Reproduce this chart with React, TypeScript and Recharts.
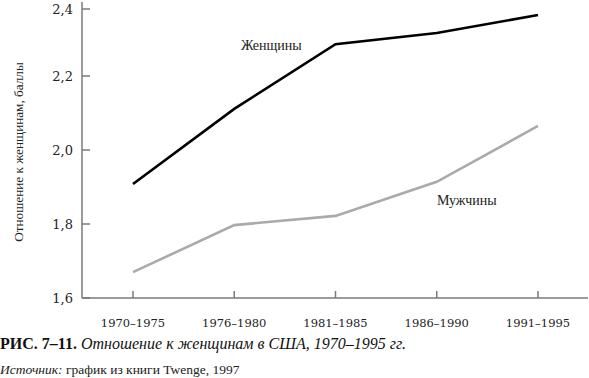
import { Line, LineChart, ReferenceDot, XAxis, YAxis } from "recharts";

const periods = ["1970–1975", "1976–1980", "1981–1985", "1986–1990", "1991–1995"];
const women = [1.908, 2.111, 2.286, 2.316, 2.365];
const men = [1.67, 1.797, 1.822, 1.914, 2.065];
const yTicks = [1.6, 1.8, 2.0, 2.2, 2.4];

const data = periods.map((period, i) => ({ period, women: women[i], men: men[i] }));

const SERIF = "'Liberation Serif', 'DejaVu Serif', serif";
const WIDE = "'DejaVu Serif', serif";
const AXIS = "#7a7a7a";

// ticks point inward, so draw them ourselves (props x/y sit 8px off the axis)
function XTick({ x, y, payload }: any) {
  const axisY = y - 8;
  return (
    <g>
      <line x1={x} x2={x} y1={axisY} y2={axisY - 7} stroke={AXIS} strokeWidth={1.5} />
      <text x={x} y={axisY + 29} textAnchor="middle" fontSize={11.5} fill="#222" fontFamily={WIDE}>
        {payload.value}
      </text>
    </g>
  );
}

function YTick({ x, y, payload }: any) {
  const axisX = x + 8;
  const label = payload.value.toFixed(1).replace(".", ",");
  return (
    <g>
      <line x1={axisX} x2={axisX + 8} y1={y} y2={y} stroke={AXIS} strokeWidth={1.5} />
      <text x={axisX - 9} y={y + 5} textAnchor="end" fontSize={13} fill="#222" fontFamily={WIDE}>
        {label}
      </text>
    </g>
  );
}

function seriesLabel(text: string, dx: number) {
  return ({ viewBox }: any) => (
    <text
      x={viewBox.x + viewBox.width / 2 + dx}
      y={viewBox.y + viewBox.height / 2 + 5}
      textAnchor="middle"
      fontSize={14}
      fill="#222"
      fontFamily={SERIF}
    >
      {text}
    </text>
  );
}

function YLabel({ viewBox }: any) {
  const cy = viewBox.y + viewBox.height / 2 + 2;
  return (
    <text
      x={18}
      y={cy}
      transform={`rotate(-90 18 ${cy})`}
      textAnchor="middle"
      dominantBaseline="central"
      fontSize={13.2}
      fill="#222"
      fontFamily={SERIF}
    >
      Отношение к женщинам, баллы
    </text>
  );
}

export default function App() {
  return (
    <div style={{ position: "absolute", left: 0, top: 0, width: 589, height: 378, background: "#fff" }}>
      <LineChart width={589} height={330} data={data} margin={{ top: 2, right: 1, bottom: 2, left: 0 }}>
        <XAxis
          dataKey="period"
          padding={{ left: 51, right: 50 }}
          height={30}
          axisLine={{ stroke: AXIS, strokeWidth: 1.5 }}
          tickLine={false}
          tick={<XTick />}
          interval={0}
        />
        <YAxis
          domain={[1.6, 2.4]}
          ticks={yTicks}
          width={82}
          axisLine={{ stroke: AXIS, strokeWidth: 1.5 }}
          tickLine={false}
          tick={<YTick />}
          label={{ content: <YLabel /> }}
        />
        <Line type="linear" dataKey="women" stroke="#000" strokeWidth={2.6} dot={false} isAnimationActive={false} />
        <Line type="linear" dataKey="men" stroke="#aaaaaa" strokeWidth={2.6} dot={false} isAnimationActive={false} />
        <ReferenceDot x="1976–1980" y={2.284} r={0} label={seriesLabel("Женщины", 37)} ifOverflow="visible" />
        <ReferenceDot x="1986–1990" y={1.865} r={0} label={seriesLabel("Мужчины", 30)} ifOverflow="visible" />
      </LineChart>
      <div style={{ position: "absolute", left: 0, top: 335, fontFamily: SERIF, fontSize: 16, color: "#111", whiteSpace: "nowrap" }}>
        <b>РИС. 7–11.</b> <i>Отношение к женщинам в США, 1970–1995 гг.</i>
      </div>
      <div style={{ position: "absolute", left: 0, top: 362, fontFamily: SERIF, fontSize: 13.5, color: "#222", whiteSpace: "nowrap" }}>
        <i>Источник:</i> график из книги Twenge, 1997
      </div>
    </div>
  );
}
